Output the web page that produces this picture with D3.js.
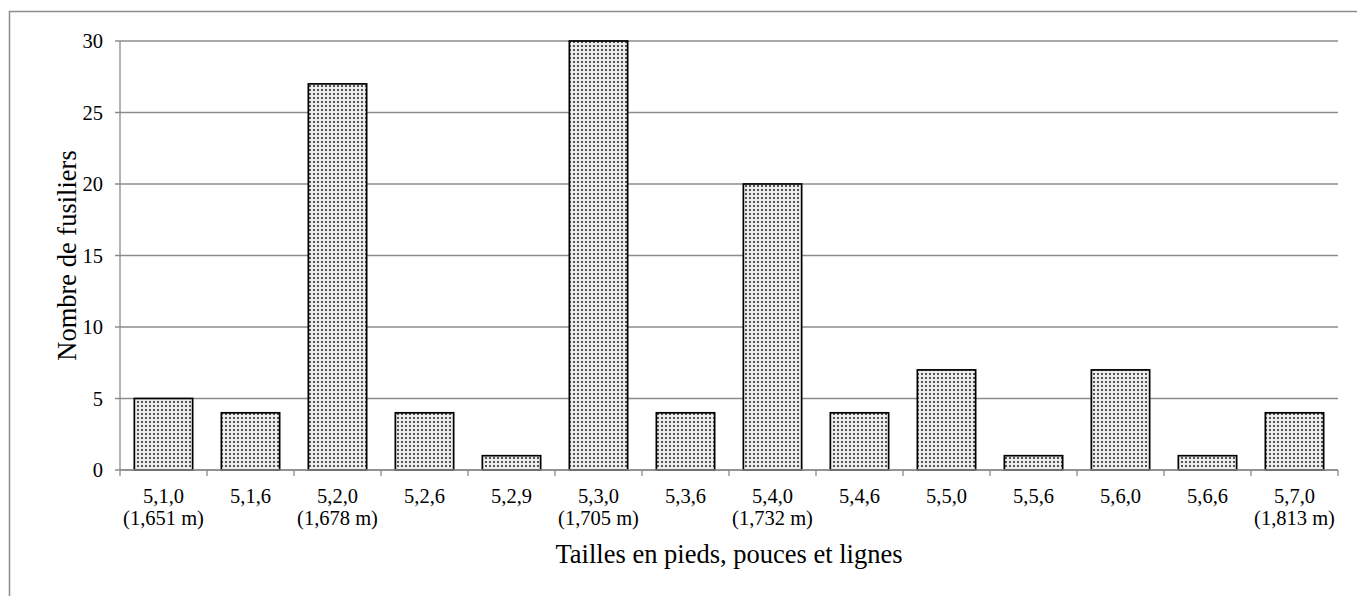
<!DOCTYPE html>
<html>
<head>
<meta charset="utf-8">
<script src="https://cdn.jsdelivr.net/npm/d3@7"></script>
<style>
  body { margin: 0; background: #fff; }
  svg text { font-family: "Liberation Serif", "Times New Roman", serif; fill: #000; }
</style>
</head>
<body>
<div id="chart"></div>
<script>
'use strict';

var categories = ['5,1,0', '5,1,6', '5,2,0', '5,2,6', '5,2,9', '5,3,0', '5,3,6',
                  '5,4,0', '5,4,6', '5,5,0', '5,5,6', '5,6,0', '5,6,6', '5,7,0'];
var metres = ['(1,651 m)', '', '(1,678 m)', '', '', '(1,705 m)', '',
              '(1,732 m)', '', '', '', '', '', '(1,813 m)'];
var fusiliers = [5, 4, 27, 4, 1, 30, 4, 20, 4, 7, 1, 7, 1, 4];
var yTicks = [0, 5, 10, 15, 20, 25, 30];

var W = 1357, H = 596;
var plotLeft = 120, plotRight = 1338, plotTop = 41, plotBottom = 470;

var svg = d3.select('#chart')
    .append('svg')
    .attr('width', W)
    .attr('height', H);

// motif pointillé des barres
var pat = svg.append('defs').append('pattern')
    .attr('id', 'dots')
    .attr('patternUnits', 'userSpaceOnUse')
    .attr('width', 4)
    .attr('height', 4);
pat.append('rect').attr('width', 4).attr('height', 4).attr('fill', '#ececec');
pat.append('rect').attr('x', 1).attr('y', 1).attr('width', 2).attr('height', 2).attr('fill', '#555');

// cadre extérieur
svg.append('rect')
    .attr('x', 9.5).attr('y', 11.5)
    .attr('width', W).attr('height', H)
    .attr('fill', 'none')
    .attr('stroke', '#8c8c8c')
    .attr('stroke-width', 1.5);

var x = d3.scaleBand()
    .domain(categories)
    .range([plotLeft, plotRight])
    .paddingInner(0.33)
    .paddingOuter(0.165);

var y = d3.scaleLinear()
    .domain([0, 30])
    .range([plotBottom, plotTop]);

// grille horizontale
svg.append('g')
    .selectAll('line')
    .data(yTicks)
    .enter().append('line')
    .attr('x1', plotLeft - 5)
    .attr('x2', plotRight)
    .attr('y1', function(d) { return y(d); })
    .attr('y2', function(d) { return y(d); })
    .attr('stroke', '#8c8c8c')
    .attr('stroke-width', 1.3);

// axe vertical
svg.append('line')
    .attr('x1', plotLeft).attr('x2', plotLeft)
    .attr('y1', plotTop).attr('y2', plotBottom)
    .attr('stroke', '#8c8c8c')
    .attr('stroke-width', 1.3);

// étiquettes Y
svg.append('g')
    .selectAll('text')
    .data(yTicks)
    .enter().append('text')
    .attr('x', 103)
    .attr('y', function(d) { return y(d); })
    .attr('dy', '0.35em')
    .attr('text-anchor', 'end')
    .style('font-size', '20.5px')
    .text(function(d) { return d; });

// graduations X aux limites des catégories
var step = x.step();
var bounds = d3.range(categories.length + 1).map(function(i) { return plotLeft + i * step; });
svg.append('g')
    .selectAll('line')
    .data(bounds)
    .enter().append('line')
    .attr('x1', function(d) { return d; })
    .attr('x2', function(d) { return d; })
    .attr('y1', plotBottom)
    .attr('y2', plotBottom + 6)
    .attr('stroke', '#8c8c8c')
    .attr('stroke-width', 1.3);

// barres
svg.append('g')
    .selectAll('rect')
    .data(fusiliers)
    .enter().append('rect')
    .attr('x', function(d, i) { return x(categories[i]); })
    .attr('y', function(d) { return y(d); })
    .attr('width', x.bandwidth())
    .attr('height', function(d) { return y(0) - y(d); })
    .attr('fill', 'url(#dots)')
    .attr('stroke', '#000')
    .attr('stroke-width', 1.7);

// axe X par-dessus les barres
svg.append('line')
    .attr('x1', plotLeft).attr('x2', plotRight)
    .attr('y1', plotBottom).attr('y2', plotBottom)
    .attr('stroke', '#8c8c8c')
    .attr('stroke-width', 1.3);

// étiquettes X (deux lignes)
var lab = svg.append('g')
    .selectAll('text')
    .data(categories)
    .enter().append('text')
    .attr('text-anchor', 'middle')
    .style('font-size', '20.5px');
lab.append('tspan')
    .attr('x', function(d) { return x(d) + x.bandwidth() / 2; })
    .attr('y', 503)
    .text(function(d) { return d; });
lab.append('tspan')
    .attr('x', function(d) { return x(d) + x.bandwidth() / 2; })
    .attr('y', 525)
    .text(function(d, i) { return metres[i]; });

// titres des axes
svg.append('text')
    .attr('x', (plotLeft + plotRight) / 2)
    .attr('y', 563)
    .attr('text-anchor', 'middle')
    .style('font-size', '26.5px')
    .text('Tailles en pieds, pouces et lignes');

svg.append('text')
    .attr('transform', 'translate(76,' + ((plotTop + plotBottom) / 2) + ') rotate(-90)')
    .attr('text-anchor', 'middle')
    .style('font-size', '26.5px')
    .text('Nombre de fusiliers');
</script>
</body>
</html>
